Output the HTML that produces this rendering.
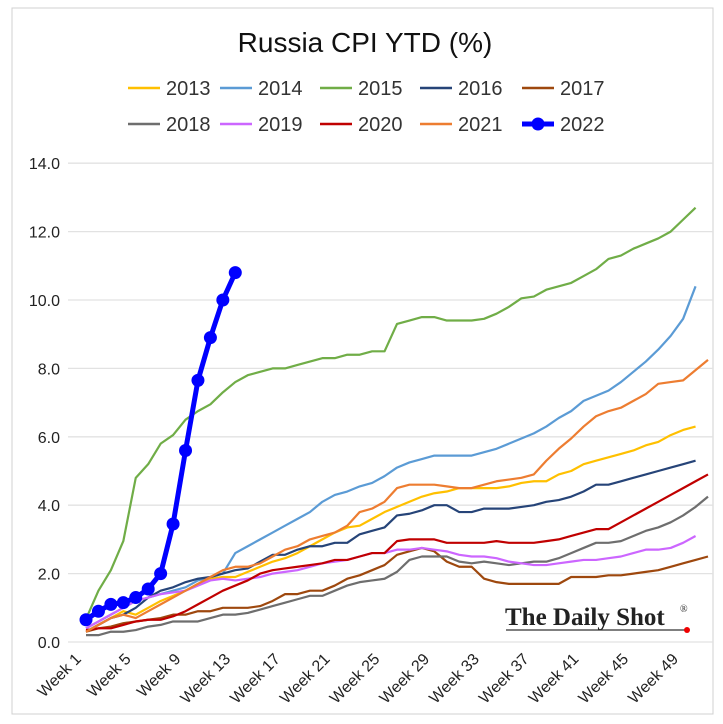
<!DOCTYPE html>
<html><head><meta charset="utf-8"><style>
body{margin:0;background:#fff;}
svg{display:block;font-family:"Liberation Sans",sans-serif;}
</style></head><body>
<svg id="chart" width="723" height="724" viewBox="0 0 723 724">
<rect x="12" y="8" width="701" height="706" fill="#fff" stroke="#d0d0d0"/>
<text x="365" y="52" text-anchor="middle" font-size="28" fill="#111">Russia CPI YTD (%)</text>
<g id="grid"></g><g id="yaxis"></g><g id="xaxis"></g><g id="legend"></g><g id="series"></g>
<g>
<text x="505" y="625" font-family="Liberation Serif,serif" font-size="25" font-weight="bold" fill="#222">The Daily Shot</text>
<text x="680" y="612" font-family="Liberation Serif,serif" font-size="10" fill="#222">®</text>
<line x1="506" y1="630" x2="686" y2="630" stroke="#333" stroke-width="1.2"/>
<circle cx="687" cy="630" r="3" fill="#e00"/>
</g>
</svg>
<script>
const years=["2013","2014","2015","2016","2017","2018","2019","2020","2021","2022"];
const colors=["#FFC000","#5B9BD5","#70AD47","#264478","#9E480E","#6E6E6E","#CC66FF","#C00000","#ED7D31","#0000FF"];
const yTicks=[0,2,4,6,8,10,12,14];
const weekLabels=["Week 1","Week 5","Week 9","Week 13","Week 17","Week 21","Week 25","Week 29","Week 33","Week 37","Week 41","Week 45","Week 49"];
const s2013=[0.3,0.5,0.7,0.9,0.8,1.0,1.2,1.35,1.5,1.7,1.85,1.9,1.9,2.05,2.2,2.35,2.45,2.6,2.8,3.0,3.2,3.35,3.4,3.6,3.8,3.95,4.1,4.25,4.35,4.4,4.5,4.5,4.5,4.5,4.55,4.65,4.7,4.7,4.9,5.0,5.2,5.3,5.4,5.5,5.6,5.75,5.85,6.05,6.2,6.3];
const s2014=[0.4,0.6,0.8,1.0,1.2,1.3,1.4,1.5,1.6,1.8,1.9,2.0,2.6,2.8,3.0,3.2,3.4,3.6,3.8,4.1,4.3,4.4,4.55,4.65,4.85,5.1,5.25,5.35,5.45,5.45,5.45,5.45,5.55,5.65,5.8,5.95,6.1,6.3,6.55,6.75,7.05,7.2,7.35,7.6,7.9,8.2,8.55,8.95,9.45,10.4];
const s2015=[0.67,1.5,2.1,2.95,4.8,5.2,5.8,6.05,6.5,6.75,6.95,7.3,7.6,7.8,7.9,8.0,8.0,8.1,8.2,8.3,8.3,8.4,8.4,8.5,8.5,9.3,9.4,9.5,9.5,9.4,9.4,9.4,9.45,9.6,9.8,10.05,10.1,10.3,10.4,10.5,10.7,10.9,11.2,11.3,11.5,11.65,11.8,12.0,12.35,12.7];
const s2016=[0.3,0.5,0.7,0.8,1.0,1.3,1.5,1.6,1.75,1.85,1.9,2.0,2.1,2.15,2.35,2.55,2.55,2.7,2.8,2.8,2.9,2.9,3.15,3.25,3.35,3.7,3.75,3.85,4.0,4.0,3.8,3.8,3.9,3.9,3.9,3.95,4.0,4.1,4.15,4.25,4.4,4.6,4.6,4.7,4.8,4.9,5.0,5.1,5.2,5.3];
const s2017=[0.3,0.4,0.45,0.55,0.6,0.65,0.7,0.8,0.8,0.9,0.9,1.0,1.0,1.0,1.05,1.2,1.4,1.4,1.5,1.5,1.65,1.85,1.95,2.1,2.25,2.55,2.65,2.75,2.65,2.35,2.2,2.2,1.85,1.75,1.7,1.7,1.7,1.7,1.7,1.9,1.9,1.9,1.95,1.95,2.0,2.05,2.1,2.2,2.3,2.4,2.5];
const s2018=[0.2,0.2,0.3,0.3,0.35,0.45,0.5,0.6,0.6,0.6,0.7,0.8,0.8,0.85,0.95,1.05,1.15,1.25,1.35,1.35,1.5,1.65,1.75,1.8,1.85,2.05,2.4,2.5,2.5,2.5,2.35,2.3,2.35,2.3,2.25,2.3,2.35,2.35,2.45,2.6,2.75,2.9,2.9,2.95,3.1,3.25,3.35,3.5,3.7,3.95,4.25];
const s2019=[0.4,0.6,0.8,1.0,1.2,1.3,1.4,1.45,1.5,1.65,1.8,1.85,1.8,1.85,1.9,2.0,2.05,2.1,2.2,2.3,2.35,2.4,2.5,2.6,2.6,2.7,2.7,2.75,2.7,2.65,2.55,2.5,2.5,2.45,2.35,2.3,2.25,2.25,2.3,2.35,2.4,2.4,2.45,2.5,2.6,2.7,2.7,2.75,2.9,3.1];
const s2020=[0.35,0.4,0.4,0.5,0.6,0.65,0.65,0.75,0.9,1.1,1.3,1.5,1.65,1.8,2.0,2.1,2.15,2.2,2.25,2.3,2.4,2.4,2.5,2.6,2.6,2.95,3.0,3.0,3.0,2.9,2.9,2.9,2.9,2.95,2.9,2.9,2.9,2.95,3.0,3.1,3.2,3.3,3.3,3.5,3.7,3.9,4.1,4.3,4.5,4.7,4.9];
const s2021=[0.3,0.5,0.7,0.8,0.7,0.9,1.1,1.3,1.5,1.7,1.9,2.1,2.2,2.2,2.3,2.5,2.7,2.8,3.0,3.1,3.2,3.4,3.8,3.9,4.1,4.5,4.6,4.6,4.6,4.55,4.5,4.5,4.6,4.7,4.75,4.8,4.9,5.3,5.65,5.95,6.3,6.6,6.75,6.85,7.05,7.25,7.55,7.6,7.65,7.95,8.25];
const s2022=[0.65,0.9,1.1,1.15,1.3,1.55,2.0,3.45,5.6,7.65,8.9,10.0,10.8];
const allSeries=[s2013,s2014,s2015,s2016,s2017,s2018,s2019,s2020,s2021,s2022];

const NS="http://www.w3.org/2000/svg";
const X0=86,STEP=12.44,Y0=642,YPER=34.2;
const xs=w=>X0+(w-1)*STEP;
const ys=v=>Y0-v*YPER;
function mk(tag,attrs,parent){const e=document.createElementNS(NS,tag);for(const k in attrs)e.setAttribute(k,attrs[k]);parent.appendChild(e);return e;}
const grid=document.getElementById('grid'),ya=document.getElementById('yaxis'),xa=document.getElementById('xaxis'),lg=document.getElementById('legend'),sg=document.getElementById('series');
yTicks.forEach(t=>{
 const l=mk('line',{x1:68,x2:713,y1:ys(t),y2:ys(t),stroke:'#e2e2e2','stroke-width':1.3},grid);
 
 
 const tx=mk('text',{x:60,y:ys(t)+6,'text-anchor':'end','font-size':16,fill:'#222'},ya);
 tx.textContent=t.toFixed(1);
 
 
});
weekLabels.forEach((lab,i)=>{
 const w=1+i*4,x=xs(w)-4,y=660;
 const tx=mk('text',{x:x,y:y,'text-anchor':'end','font-size':16,fill:'#222',transform:`rotate(-45 ${x} ${y})`},xa);
 tx.textContent=lab;
 
 
});
allSeries.forEach((s,i)=>{
 const is22=i===9;
 const p=mk('polyline',{points:s.map((v,j)=>xs(j+1)+','+ys(v)).join(' '),fill:'none',stroke:colors[i],'stroke-width':is22?5:2.2,'stroke-linejoin':'round'},sg);
 
 
 if(is22){s.forEach((v,j)=>{
  const c=mk('circle',{cx:xs(j+1),cy:ys(v),r:6.5,fill:colors[i]},sg);
  
  
 });}
});
const lx=[128,220,320,420,522];
years.forEach((y,i)=>{
 const row=Math.floor(i/5),x=lx[i%5],yy=row?124:88;
 const g=mk('g',{},lg);
 
 
 mk('line',{x1:x,x2:x+32,y1:yy,y2:yy,stroke:colors[i],'stroke-width':i===9?5:2.5},g);
 if(i===9)mk('circle',{cx:x+16,cy:yy,r:6.5,fill:colors[i]},g);
 const t=mk('text',{x:x+38,y:yy+7,'font-size':20,fill:'#333'},g);
 t.textContent=y;
});
</script>
</body></html>
